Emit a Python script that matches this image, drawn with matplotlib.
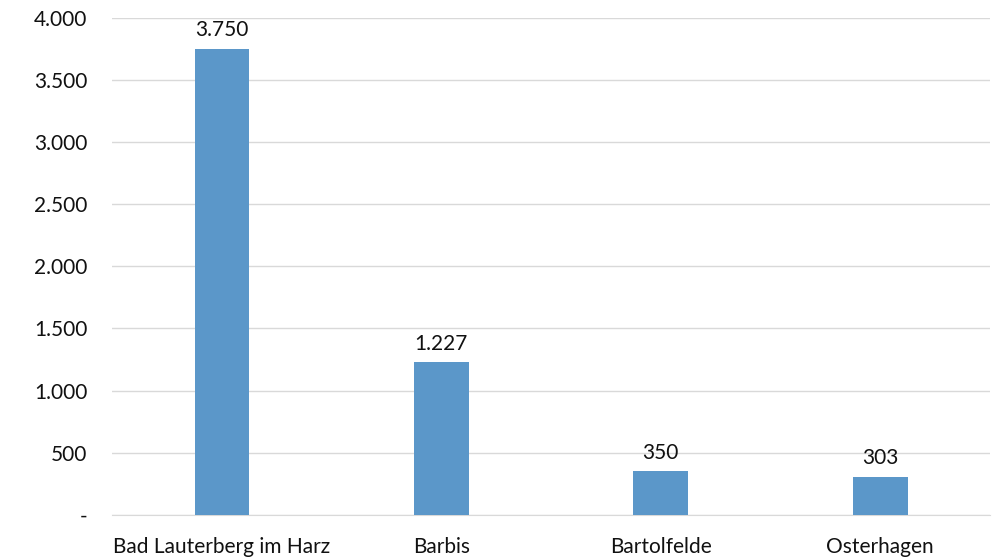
import matplotlib.pyplot as plt
from matplotlib.ticker import FuncFormatter, MultipleLocator

orte = ['Bad Lauterberg im Harz', 'Barbis', 'Bartolfelde', 'Osterhagen']
einwohner = [3750, 1227, 350, 303]

plt.rcParams['font.family'] = ['Lato', 'DejaVu Sans']


def de_fmt(v, pos=None):
    if v == 0:
        return '-'
    return f'{int(round(v)):,}'.replace(',', '.')


fig = plt.figure(figsize=(10.02, 5.59), dpi=100)
ax = fig.add_axes([0.112, 0.079, 0.876, 0.889])

x = range(len(orte))
bars = ax.bar(x, einwohner, width=0.25, color='#5b97c9', zorder=3)
for b, v in zip(bars, einwohner):
    ax.text(b.get_x() + b.get_width() / 2, v + 70, de_fmt(v),
            ha='center', va='bottom', fontsize=15, color='#111111')

ax.set_xlim(-0.5, len(orte) - 0.5)
ax.set_ylim(0, 4000)
ax.yaxis.set_major_locator(MultipleLocator(500))
ax.yaxis.set_major_formatter(FuncFormatter(de_fmt))
ax.set_xticks(list(x))
ax.set_xticklabels(orte)

ax.grid(axis='y', color='#d9d9d9', linewidth=1, zorder=0)
for s in ['top', 'right', 'left']:
    ax.spines[s].set_visible(False)
ax.spines['bottom'].set_color('#d9d9d9')
ax.tick_params(axis='both', length=0, labelsize=15, colors='#111111')
ax.tick_params(axis='y', pad=18)
ax.tick_params(axis='x', pad=16)

fig.savefig('out.png', dpi=100)
